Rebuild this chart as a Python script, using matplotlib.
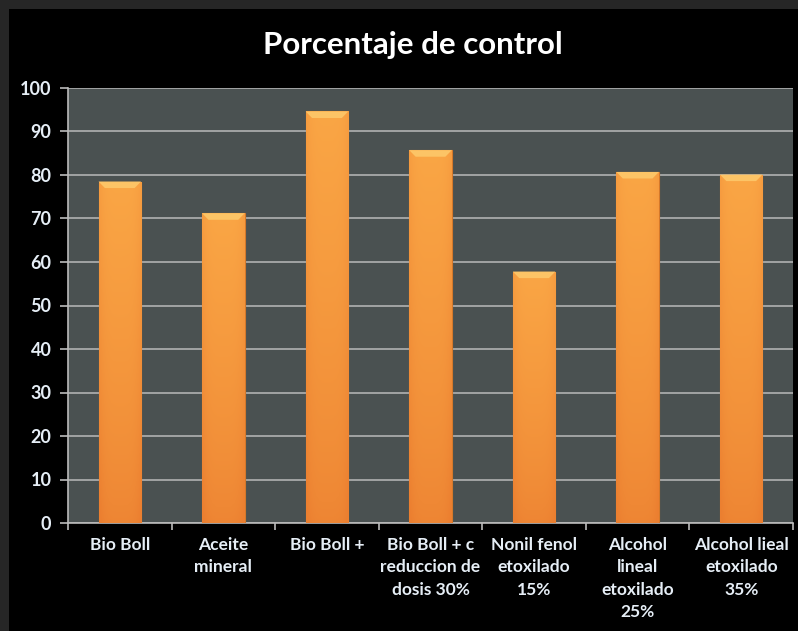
import matplotlib.pyplot as plt
import numpy as np
from matplotlib.patches import Rectangle

categorias = ["Bio Boll", "Aceite\nmineral", "Bio Boll +", "Bio Boll + c\nreduccion de\ndosis 30%",
              "Nonil fenol\netoxilado\n15%", "Alcohol\nlineal\netoxilado\n25%", "Alcohol lieal\netoxilado\n35%"]
control = [78.5, 71.2, 94.6, 85.7, 57.8, 80.7, 80.1]
yticks = [0, 10, 20, 30, 40, 50, 60, 70, 80, 90, 100]

plt.rcParams['font.family'] = ['Lato', 'DejaVu Sans']
txt = '#e6eef6'

fig = plt.figure(figsize=(7.98, 6.31), dpi=100, facecolor='#262626')
# black chart area inside the grey frame
fig.patches.append(Rectangle((9 / 798, 0), 1, 1 - 9 / 631, transform=fig.transFigure,
                             facecolor='black', edgecolor='none', zorder=-10))

ax = fig.add_axes([68 / 798, 1 - 523 / 631, (793 - 68) / 798, (523 - 88) / 631])
ax.set_facecolor('#4a5151')
x = np.arange(len(categorias))

bars = ax.bar(x, control, width=0.41, color='#f39a3c', edgecolor='#d4782a', linewidth=0.8, zorder=3)

# gradient: lighter top, deeper orange at the bottom, slightly darker edges
gx = np.linspace(-1, 1, 60)
gy = np.linspace(0, 1, 80)
GX, GY = np.meshgrid(gx, gy)
shade = 0.15 + 0.85 * GY ** 0.8 - 0.25 * GX ** 4
c0 = np.array([0.925, 0.50, 0.19])
c1 = np.array([0.98, 0.65, 0.27])
img = c0 + (c1 - c0) * np.clip(shade, 0, 1)[..., None]
for b in bars:
    x0, w, h = b.get_x(), b.get_width(), b.get_height()
    im = ax.imshow(img, extent=[x0, x0 + w, 0, h], origin='lower', aspect='auto', zorder=3.5)
    im.set_clip_path(b)
    # bevel at top of bar
    ax.fill([x0, x0 + w, x0 + w * 0.85, x0 + w * 0.15], [h, h, h - 1.5, h - 1.5],
            color='#fcc466', zorder=4, lw=0)
ax.set_xlim(-0.5, len(categorias) - 0.5)
ax.set_ylim(0, 100)

ax.set_yticks(yticks)
ax.set_yticklabels([str(v) for v in yticks], color=txt, fontsize=13, fontweight='bold')
ax.grid(axis='y', color='#a9aaaa', linewidth=1.3, zorder=1)
ax.set_axisbelow(True)

ax.set_xticks(np.arange(-0.5, len(categorias)), minor=False)
ax.set_xticklabels([])
ax.set_xticks(x, minor=True)
ax.set_xticklabels(categorias, minor=True, color=txt, fontsize=12.5, fontweight='bold',
                   linespacing=1.5, va='top')
ax.tick_params(axis='x', which='minor', length=0, pad=10)
ax.tick_params(axis='x', which='major', length=5, color='#bbbbbb', width=1.2)
ax.tick_params(axis='y', length=6, color='#bbbbbb', width=1.2, pad=6)

for s in ['top', 'right']:
    ax.spines[s].set_visible(False)
for s in ['left', 'bottom']:
    ax.spines[s].set_color('#bbbbbb')
    ax.spines[s].set_linewidth(1.2)

fig.text(413 / 798, 1 - 45 / 631, "Porcentaje de control", ha='center', va='center',
         color='white', fontsize=22.5, fontweight='bold')

fig.savefig('out.png', dpi=100, facecolor=fig.get_facecolor())
